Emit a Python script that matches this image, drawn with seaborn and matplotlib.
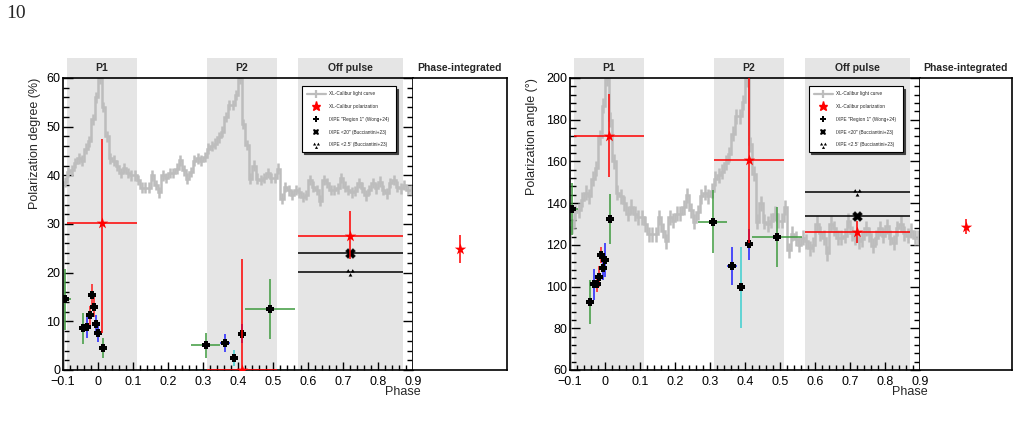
import numpy as np
import matplotlib
matplotlib.use("Agg")
import matplotlib.pyplot as plt
from matplotlib.lines import Line2D
from matplotlib.path import Path
from matplotlib.ticker import MultipleLocator
import seaborn as sns

# ── Data ───────────────────────────────────────────────────────
# XL-Calibur light curve, 100 phase bins (-0.1 .. 0.9), in units of the PD panel (top = 60)
lc_edges = np.linspace(-0.1, 0.9, 101)
lc_values = [
    38.6, 40.7, 41.0, 42.5, 43.5, 43.0, 45.5, 47.0, 51.5, 56.0,
    59.9, 54.0, 48.0, 43.5, 43.0, 42.0, 40.5, 41.5, 40.5, 40.0,
    40.0, 39.0, 37.5, 37.5, 37.5, 40.0, 38.0, 36.5, 40.0, 39.5,
    40.5, 40.5, 41.4, 43.1, 41.0, 39.3, 40.7, 43.0, 43.5, 43.0,
    43.8, 45.5, 46.0, 46.5, 47.8, 49.0, 52.0, 54.5, 54.5, 56.5,
    59.8, 50.5, 46.2, 39.3, 42.0, 39.3, 39.0, 39.5, 40.5, 39.5,
    39.5, 41.4, 35.2, 37.6, 36.9, 36.0, 37.0, 36.5, 35.5, 36.0,
    39.0, 37.7, 37.0, 34.8, 39.0, 38.4, 37.0, 37.0, 37.3, 39.5,
    37.7, 37.0, 36.5, 36.8, 38.4, 37.5, 35.9, 37.0, 38.4, 37.3,
    38.7, 37.0, 36.3, 38.4, 39.0, 37.7, 37.3, 38.0, 37.0, 37.0,
]
lc_ref_top = 60.0
lc_rel_err = 0.018

# phase windows
win_names = ["P1", "P2", "Off pulse"]
win_lo = [-0.09, 0.31, 0.57]
win_hi = [0.11, 0.51, 0.87]

# IXPE "Region 1" (Wong+24)
ixpe_phase = [-0.094, -0.044, -0.032, -0.022, -0.016, -0.011, -0.005, 0.000, 0.014,
              0.308, 0.363, 0.388, 0.410, 0.492]
ixpe_dphase = [0.017, 0.003, 0.003, 0.003, 0.003, 0.003, 0.003, 0.003, 0.003,
               0.041, 0.014, 0.002, 0.008, 0.071]
ixpe_pd = [14.5, 8.6, 8.9, 11.2, 15.4, 12.9, 9.4, 7.6, 4.5, 5.1, 5.6, 2.5, 7.5, 12.5]
ixpe_pd_err = [6.2, 3.2, 2.4, 2.0, 2.2, 2.0, 2.0, 1.8, 2.0, 2.6, 1.8, 1.7, 1.9, 6.2]
ixpe_pa = [137.0, 92.5, 101.1, 101.2, 104.7, 115.1, 109.0, 112.7, 132.2,
           131.1, 110.0, 99.6, 120.3, 123.9]
ixpe_pa_err = [12.5, 10.5, 7.5, 4.0, 5.0, 4.0, 6.0, 8.2, 12.0, 15.0, 9.2, 19.5, 7.5, 14.4]
ixpe_col = ["g", "g", "b", "r", "r", "r", "b", "b", "g", "g", "b", "c", "b", "g"]

# XL-Calibur polarization per window
xlc_phase = [0.01, 0.41, 0.72]
xlc_dphase = [0.10, 0.10, 0.15]
xlc_pd = [30.2, 0.0, 27.6]
xlc_pd_lo = [22.6, 0.0, 4.8]
xlc_pd_hi = [17.2, 22.8, 5.0]
xlc_pa = [172.3, 160.7, 126.3]
xlc_pa_lo = [20.0, 39.8, 5.3]
xlc_pa_hi = [20.0, 45.0, 5.1]
xlc_int_pd, xlc_int_pd_err = 24.8, 2.9
xlc_int_pa, xlc_int_pa_err = 128.7, 3.5

# IXPE Bucciantini+23 off-pulse
buc_phase, buc_dphase = 0.72, 0.15
buc20_pd, buc25_pd = 24.1, 20.2
buc20_pa, buc25_pa = 133.8, 145.5

legend_labels = ["XL-Calibur light curve", "XL-Calibur polarization",
                 'IXPE "Region 1" (Wong+24)', 'IXPE <20" (Bucciantini+23)',
                 "IXPE <2.5' (Bucciantini+23)"]
phase_ticks = [-0.1, 0.0, 0.1, 0.2, 0.3, 0.4, 0.5, 0.6, 0.7, 0.8, 0.9]
phase_tick_labels = ["\u22120.1", "0", "0.1", "0.2", "0.3", "0.4", "0.5", "0.6", "0.7", "0.8", "0.9"]

# ── Style ──────────────────────────────────────────────────────
sns.set_theme(style="ticks")
plt.rcParams["font.family"] = ["Liberation Sans", "DejaVu Sans"]
plt.rcParams["axes.unicode_minus"] = True

BAND = "#e5e5e5"
LC = "#bdbdbd"
COLS = {"g": "#3d9a3d", "b": "#1f1fff", "r": "#ff1a1a", "c": "#3ccfcf"}


def tri3():
    parts = []
    for cx, cy in [(-0.5, 0.35), (0.5, 0.35), (0.0, -0.55)]:
        parts.append(Path([(cx - 0.42, cy - 0.35), (cx + 0.42, cy - 0.35), (cx, cy + 0.4),
                           (cx - 0.42, cy - 0.35)],
                          [Path.MOVETO, Path.LINETO, Path.LINETO, Path.CLOSEPOLY]))
    return Path.make_compound_path(*parts)


def thick_plus(w=0.21):
    v = [(-w, -0.5), (w, -0.5), (w, -w), (0.5, -w), (0.5, w), (w, w), (w, 0.5),
         (-w, 0.5), (-w, w), (-0.5, w), (-0.5, -w), (-w, -w), (-w, -0.5)]
    return Path(v, [Path.MOVETO] + [Path.LINETO] * 11 + [Path.CLOSEPOLY])


TRI3 = tri3()
PLUS = thick_plus()


def draw_panel(ax, ax_int, top, bottom, major, minor, ylabel, ylab_x,
               y_ixpe, y_ixpe_err, y_xlc, y_xlc_lo, y_xlc_hi, y_int, y_int_err, y_b20, y_b25):
    # shaded phase windows + headings
    for name, lo, hi in zip(win_names, win_lo, win_hi):
        span = ax.axvspan(lo, hi, ymin=0, ymax=1 + 20 / 292, color=BAND, lw=0, zorder=0)
        span.set_clip_on(False)
        ax.text((lo + hi) / 2, 1 + 10 / 292, name, transform=ax.get_xaxis_transform(),
                ha="center", va="center", fontsize=7.5, fontweight="bold")
    ax_int.text(0.5, 1 + 10 / 292, "Phase-integrated", transform=ax_int.transAxes,
                ha="center", va="center", fontsize=7.5, fontweight="bold")

    # light curve scaled to the panel
    lc = np.array(lc_values) / lc_ref_top * top
    centers = (lc_edges[:-1] + lc_edges[1:]) / 2
    ax.stairs(lc, lc_edges, color=LC, lw=1.8, zorder=1)
    ax.errorbar(centers, lc, yerr=lc_rel_err * top, fmt="none",
                ecolor=LC, elinewidth=1.8, zorder=1)

    # IXPE Wong+24
    for x, dx, y, dy, c in zip(ixpe_phase, ixpe_dphase, y_ixpe, y_ixpe_err, ixpe_col):
        ax.errorbar(x, y, xerr=dx, yerr=dy, fmt="none", ecolor=COLS[c], elinewidth=1.1, zorder=2)
    sns.scatterplot(x=ixpe_phase, y=y_ixpe, marker=PLUS, color="black", s=36,
                    linewidth=0, ax=ax, zorder=3)

    # IXPE Bucciantini+23
    ax.errorbar([buc_phase], [y_b20], xerr=buc_dphase, fmt="none", ecolor="black",
                elinewidth=1.1, zorder=2)
    ax.errorbar([buc_phase], [y_b25], xerr=buc_dphase, fmt="none", ecolor="black",
                elinewidth=1.1, zorder=2)
    sns.scatterplot(x=[buc_phase], y=[y_b20], marker="X", color="black", s=50,
                    edgecolor="black", linewidth=0.3, ax=ax, zorder=3)
    sns.scatterplot(x=[buc_phase], y=[y_b25], marker=TRI3, color="black", s=36,
                    linewidth=0, ax=ax, zorder=3)

    # XL-Calibur
    ax.errorbar(xlc_phase, y_xlc, xerr=xlc_dphase, yerr=[y_xlc_lo, y_xlc_hi], fmt="none",
                ecolor="red", elinewidth=1.1, zorder=4)
    sns.scatterplot(x=xlc_phase, y=y_xlc, marker="*", color="red", s=75,
                    linewidth=0, ax=ax, zorder=5)
    ax_int.errorbar([0.5], [y_int], yerr=y_int_err, fmt="none", ecolor="red",
                    elinewidth=1.1, zorder=4)
    sns.scatterplot(x=[0.5], y=[y_int], marker="*", color="red", s=75,
                    linewidth=0, ax=ax_int, zorder=5)

    # axes
    ax.set_xlim(-0.1, 0.9)
    ax.set_ylim(bottom, top)
    ax.set_xticks(phase_ticks, labels=phase_tick_labels)
    ax.xaxis.set_minor_locator(MultipleLocator(0.02))
    ax.yaxis.set_major_locator(MultipleLocator(major))
    ax.yaxis.set_minor_locator(MultipleLocator(minor))
    ax.tick_params(which="both", direction="in", top=False, right=True, left=True,
                   bottom=True, labelsize=9, width=1, pad=2, colors="black")
    ax.tick_params(axis="x", which="both", pad=4)
    ax.tick_params(axis="y", which="major", length=7)
    ax.tick_params(axis="y", which="minor", length=4)
    ax.tick_params(axis="x", which="major", length=6)
    ax.tick_params(axis="x", which="minor", length=3.5)
    for sp in ax.spines.values():
        sp.set_linewidth(1.2)
        sp.set_color("black")
    ax.set_ylabel(ylabel, fontsize=9, loc="top")
    ax.yaxis.set_label_coords(ylab_x, 1.0)
    ax.set_xlabel("Phase", fontsize=9, loc="right")
    ax.xaxis.set_label_coords(1.022, -0.055)

    ax_int.set_xlim(0, 1)
    ax_int.set_ylim(bottom, top)
    ax_int.set_xticks([])
    ax_int.set_yticks([])
    ax_int.spines["left"].set_visible(False)
    for sp in ["top", "right", "bottom"]:
        ax_int.spines[sp].set_linewidth(1.2)
        ax_int.spines[sp].set_color("black")

    handles = [
        Line2D([], [], color=LC, lw=1.6, marker="|", markersize=6, markeredgewidth=1.6),
        Line2D([], [], ls="none", marker="*", color="red", markersize=6.5),
        Line2D([], [], ls="none", marker=PLUS, color="black", markersize=5, markeredgewidth=0),
        Line2D([], [], ls="none", marker="X", color="black", markersize=5, markeredgewidth=0),
        Line2D([], [], ls="none", marker=TRI3, color="black", markersize=5, markeredgewidth=0),
    ]
    leg = ax.legend(handles, legend_labels, loc="upper left",
                    bbox_to_anchor=(0.677, 0.75, 0.28, 0.229), mode="expand",
                    fontsize=3.4, handlelength=4.0, handletextpad=0.6, borderpad=1.0,
                    labelspacing=1.65, fancybox=False, framealpha=1, edgecolor="black",
                    shadow={"ox": 1.5, "oy": -1.5, "color": "0.25", "alpha": 1})
    leg.get_frame().set_linewidth(0.8)
    leg.set_zorder(10)


fig = plt.figure(figsize=(10.18, 4.26), dpi=100)
W, H = 1018, 426
ax_pd = fig.add_axes([63 / W, 56 / H, 350 / W, 292 / H])
ax_pd_int = fig.add_axes([413 / W, 56 / H, 94 / W, 292 / H])
ax_pa = fig.add_axes([570 / W, 56 / H, 350 / W, 292 / H])
ax_pa_int = fig.add_axes([920 / W, 56 / H, 92 / W, 292 / H])

draw_panel(ax_pd, ax_pd_int, 60, 0, 10, 2, "Polarization degree (%)", -0.063,
           ixpe_pd, ixpe_pd_err, xlc_pd, xlc_pd_lo, xlc_pd_hi,
           xlc_int_pd, xlc_int_pd_err, buc20_pd, buc25_pd)
draw_panel(ax_pa, ax_pa_int, 200, 60, 20, 4, "Polarization angle (\u00b0)", -0.091,
           ixpe_pa, ixpe_pa_err, xlc_pa, xlc_pa_lo, xlc_pa_hi,
           xlc_int_pa, xlc_int_pa_err, buc20_pa, buc25_pa)

fig.text(6 / W, 1 - 5 / H, "10", family=["Liberation Serif", "DejaVu Serif"],
         fontsize=14, ha="left", va="top")

fig.savefig("out.png", dpi=100, facecolor="white")
